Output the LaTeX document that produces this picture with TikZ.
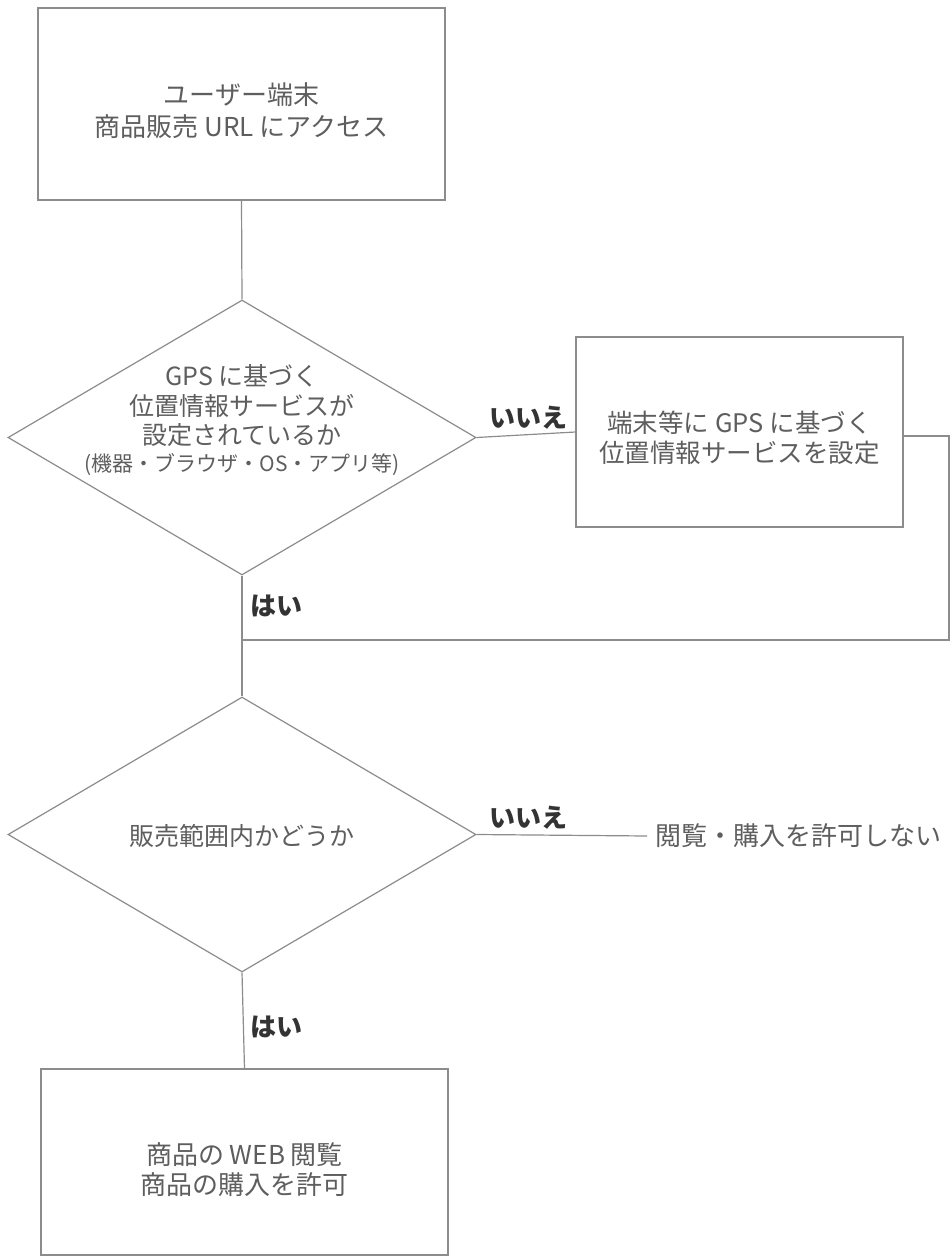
\documentclass[tikz,border=0pt]{standalone}
\usepackage{fontspec}
\newfontfamily\jp{Noto Sans CJK JP}
\usetikzlibrary{shapes.geometric}
\definecolor{txt}{HTML}{5E5E5E}
\definecolor{lbl}{HTML}{333333}
\definecolor{ln}{HTML}{8C8C8C}
\begin{document}
\begin{tikzpicture}[x=1pt,y=-1pt,
  every node/.style={font=\jp, text=txt, inner sep=0pt},
  box/.style={draw=ln, line width=1.2pt, rectangle},
  dia/.style={draw=ln, line width=1.2pt, diamond, minimum width=468pt, minimum height=275pt},
  boxtext/.style={font=\jp\fontsize{26}{32}\selectfont, align=center},
  diatext/.style={font=\jp\fontsize{25}{29.5}\selectfont, align=center},
  yn/.style={font=\jp\bfseries\fontsize{26}{28}\selectfont, text=lbl},
  conn/.style={draw=ln, line width=1.2pt}]
\useasboundingbox (0,0) rectangle (952,1257);
\fill[white] (0,0) rectangle (952,1257);

\node[box, minimum width=407pt, minimum height=192pt] (start) at (241.5,104) {};
\node[boxtext] (starttext) at (241.5,111) {ユーザー端末\\商品販売 URL にアクセス};

\node[dia] (d1) at (242,437.5) {};
\node[diatext] (d1text) at (242,406) {GPS に基づく\\位置情報サービスが\\設定されているか};
\node[font=\jp\fontsize{21}{24}\selectfont] (d1sub) at (242,465) {(機器・ブラウザ・OS・アプリ等)};

\node[box, minimum width=327pt, minimum height=190pt] (gps) at (739.5,432) {};
\node[align=center, font=\jp\fontsize{25.5}{30}\selectfont] (gpstext) at (739.5,438) {端末等に GPS に基づく\\位置情報サービスを設定};

\coordinate (r1) at (949,436);
\coordinate (r2) at (949,640);
\coordinate (j) at (242,640);

\node[dia] (d2) at (242,834.5) {};
\node[diatext] (d2text) at (242,836) {販売範囲内かどうか};

\node[boxtext, anchor=west, inner xsep=8pt] (ng) at (647,836) {閲覧・購入を許可しない};

\node[box, minimum width=407pt, minimum height=186pt] (ok) at (244.5,1162) {};
\node[boxtext, font=\jp\fontsize{26}{30}\selectfont] (oktext) at (244.5,1170) {商品の WEB 閲覧\\商品の購入を許可};

% connectors
\draw[conn] (start.south) -- (d1.north);
\draw[conn] (d1.east) -- (gps.west);
\draw[conn] (gps.east |- r1) -- (r1) -- (r2) -- (j);
\draw[conn] (d1.south) -- (d2.north);
\draw[conn] (d2.east) -- (ng.west);
\draw[conn] (d2.south) -- (ok.north);

% labels
\node[yn] (no1) at (528,418) {いいえ};
\node[yn] (yes1) at (276,606) {はい};
\node[yn] (no2) at (528,818) {いいえ};
\node[yn] (yes2) at (276,1027) {はい};
\end{tikzpicture}
\end{document}
